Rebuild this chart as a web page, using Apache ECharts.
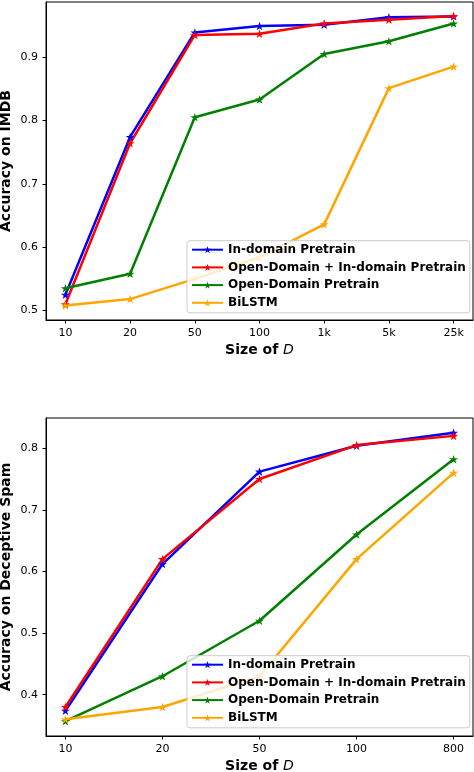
<!DOCTYPE html>
<html>
<head>
<meta charset="utf-8">
<script src="https://cdn.jsdelivr.net/npm/echarts@6/dist/echarts.min.js"></script>
<style>
  html, body { margin: 0; padding: 0; background: #fff; }
  #chart { width: 474px; height: 772px; }
</style>
</head>
<body>
<div id="chart"></div>
<script>
// top panel: IMDB
var imdbSizes = ['10', '20', '50', '100', '1k', '5k', '25k'];
var imdbInDomain = [0.525, 0.774, 0.939, 0.949, 0.951, 0.963, 0.964];
var imdbOpenIn = [0.510, 0.764, 0.935, 0.937, 0.953, 0.959, 0.965];
var imdbOpen = [0.535, 0.558, 0.805, 0.833, 0.905, 0.925, 0.953];
var imdbBilstm = [0.508, 0.518, 0.550, 0.584, 0.636, 0.851, 0.885];
var imdbTicks = [0.5, 0.6, 0.7, 0.8, 0.9];

// bottom panel: Deceptive Spam
var spamSizes = ['10', '20', '50', '100', '800'];
var spamInDomain = [0.374, 0.612, 0.762, 0.804, 0.825];
var spamOpenIn = [0.380, 0.620, 0.750, 0.805, 0.820];
var spamOpen = [0.357, 0.430, 0.520, 0.660, 0.782];
var spamBilstm = [0.360, 0.380, 0.430, 0.620, 0.760];
var spamTicks = [0.4, 0.5, 0.6, 0.7, 0.8];

var names = ['In-domain Pretrain', 'Open-Domain + In-domain Pretrain', 'Open-Domain Pretrain', 'BiLSTM'];
var colors = ['#0000ff', '#ff0000', '#008000', '#ffa500'];

var star = 'path://M0,-10L2.245,-3.09L9.511,-3.09L3.633,1.18L5.878,8.09L0,3.82L-5.878,8.09L-3.633,1.18L-9.511,-3.09L-2.245,-3.09Z';
var font = 'DejaVu Sans';

function pairs(vals) {
    return vals.map(function(v, i) { return [i, v]; });
}

function idx(n) {
    var r = [];
    for (var i = 0; i < n; i++) r.push(i);
    return r;
}

function xAxis(gi, labels) {
    var n = labels.length;
    var pad = (n - 1) * 0.05;
    return {
        type: 'value', gridIndex: gi,
        min: -pad, max: n - 1 + pad,
        name: 'Size of {i|D}',
        nameLocation: 'middle', nameGap: 23,
        nameTextStyle: {
            fontFamily: font, fontSize: 14, fontWeight: 'bold', color: '#000',
            verticalAlign: 'top',
            rich: { i: { fontFamily: font, fontSize: 14, fontStyle: 'italic', fontWeight: 'normal', color: '#000' } }
        },
        axisLine: { show: true, onZero: false, lineStyle: { color: '#000', width: 1 } },
        axisTick: { show: true, length: 3.5, customValues: idx(n), lineStyle: { color: '#000' } },
        axisLabel: {
            customValues: idx(n), margin: 8,
            fontFamily: font, fontSize: 11, color: '#000',
            formatter: function(v) { return labels[Math.round(v)]; }
        },
        splitLine: { show: false }
    };
}

function yAxis(gi, min, max, ticks, title) {
    return {
        type: 'value', gridIndex: gi,
        min: min, max: max,
        name: title,
        nameLocation: 'middle', nameGap: 33, nameMoveOverlap: false,
        nameTextStyle: { fontFamily: font, fontSize: 14, fontWeight: 'bold', color: '#000' },
        axisLine: { show: true, onZero: false, lineStyle: { color: '#000', width: 1 } },
        axisTick: { show: true, length: 3.5, customValues: ticks, lineStyle: { color: '#000' } },
        axisLabel: {
            customValues: ticks, margin: 8,
            fontFamily: font, fontSize: 11, color: '#000',
            formatter: function(v) { return v.toFixed(1); }
        },
        splitLine: { show: false }
    };
}

function lines(gi, sets) {
    return sets.map(function(vals, k) {
        return {
            name: names[k], type: 'line',
            xAxisIndex: gi, yAxisIndex: gi,
            data: pairs(vals),
            symbol: star, symbolSize: 9, symbolKeepAspect: true,
            showAllSymbol: true,
            lineStyle: { color: colors[k], width: 2.5 },
            itemStyle: { color: colors[k] },
            animation: false
        };
    });
}

function legend(top) {
    return {
        data: names, orient: 'vertical',
        left: 187, top: top,
        itemWidth: 31, itemHeight: 9, itemGap: 3.7,
        padding: [2, 4, 3, 4],
        backgroundColor: 'rgba(255,255,255,0.8)',
        borderColor: '#cccccc', borderWidth: 1, borderRadius: 3,
        selectedMode: false,
        textStyle: { fontFamily: font, fontSize: 12, fontWeight: 'bold', color: '#000', lineHeight: 14 }
    };
}

function grid(top) {
    return {
        left: 46, top: top, width: 427, height: 318,
        containLabel: false, outerBoundsMode: 'none',
        show: true, borderColor: '#000', borderWidth: 1, backgroundColor: 'transparent'
    };
}

var chart = echarts.init(document.getElementById('chart'));
chart.setOption({
    backgroundColor: '#fff',
    animation: false,
    color: colors,
    grid: [grid(2), grid(418)],
    xAxis: [xAxis(0, imdbSizes), xAxis(1, spamSizes)],
    yAxis: [
        yAxis(0, 0.485, 0.987, imdbTicks, 'Accuracy on IMDB'),
        yAxis(1, 0.333, 0.849, spamTicks, 'Accuracy on Deceptive Spam')
    ],
    legend: [legend(240.7), legend(655.7)],
    series: lines(0, [imdbInDomain, imdbOpenIn, imdbOpen, imdbBilstm])
        .concat(lines(1, [spamInDomain, spamOpenIn, spamOpen, spamBilstm]))
});
</script>
</body>
</html>
